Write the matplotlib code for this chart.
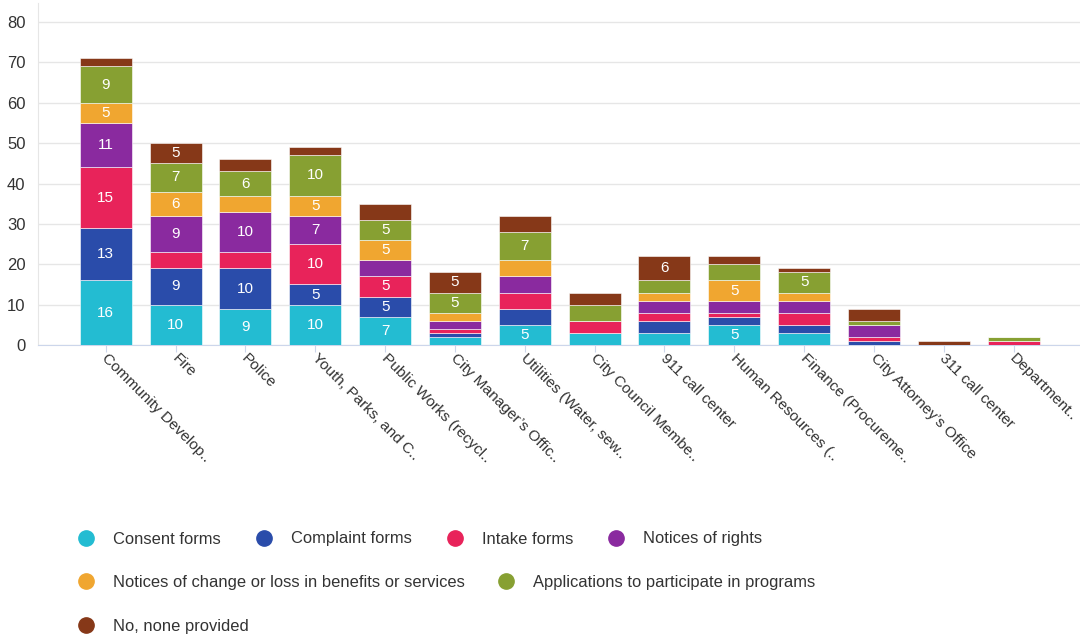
import numpy as np
import matplotlib.pyplot as plt
from matplotlib.lines import Line2D
from matplotlib.transforms import ScaledTranslation

plt.rcParams['font.family'] = ['Liberation Sans', 'DejaVu Sans']

departments = ['Community Develop..', 'Fire', 'Police', 'Youth, Parks, and C..',
               'Public Works (recycl..', 'City Manager\u2019s Offic..', 'Utilities (Water, sew..',
               'City Council Membe..', '911 call center', 'Human Resources (..',
               'Finance (Procureme..', 'City Attorney\u2019s Office', '311 call center',
               'Department..']

consent = [16, 10, 9, 10, 7, 2, 5, 3, 3, 5, 3, 0, 0, 0]
complaint = [13, 9, 10, 5, 5, 1, 4, 0, 3, 2, 2, 1, 0, 0]
intake = [15, 4, 4, 10, 5, 1, 4, 3, 2, 1, 3, 1, 0, 1]
rights = [11, 9, 10, 7, 4, 2, 4, 0, 3, 3, 3, 3, 0, 0]
change = [5, 6, 4, 5, 5, 2, 4, 0, 2, 5, 2, 0, 0, 0]
applications = [9, 7, 6, 10, 5, 5, 7, 4, 3, 4, 5, 1, 0, 1]
none_provided = [2, 5, 3, 2, 4, 5, 4, 3, 6, 2, 1, 3, 1, 0]

series_names = ['Consent forms', 'Complaint forms', 'Intake forms', 'Notices of rights',
                'Notices of change or loss in benefits or services',
                'Applications to participate in programs', 'No, none provided']
series = [consent, complaint, intake, rights, change, applications, none_provided]
colors = ['#23bcd2', '#2a4caa', '#e8235a', '#8a2a9f', '#f0a630', '#87a032', '#863818']

fig = plt.figure(figsize=(10.8, 6.38), dpi=100)
ax = fig.add_axes([0.0352, 0.4592, 0.9648, 0.536])

x = np.arange(len(departments))
bottom = np.zeros(len(departments))
for vals, col in zip(series, colors):
    vals = np.array(vals, dtype=float)
    ax.bar(x, vals, width=0.745, bottom=bottom, color=col, edgecolor='white',
           linewidth=0.4, zorder=3)
    for xi, b, v in zip(x, bottom, vals):
        if v >= 5:
            ax.text(xi, b + v / 2, f'{int(v)}', ha='center', va='center',
                    color='white', fontsize=11, zorder=4)
    bottom += vals

ax.set_xlim(-0.97, 13.95)
ax.set_ylim(0, 84.7)
ax.set_yticks(range(0, 81, 10))
ax.grid(axis='y', color='#e6e6e6', linewidth=1, zorder=0)
ax.tick_params(axis='y', length=0, pad=9, labelsize=12, labelcolor='#333333')
ax.tick_params(axis='x', length=5, color='#ccd6eb', labelsize=11.1, labelcolor='#333333', pad=3)
ax.set_xticks(x)
ax.set_xticklabels(departments, rotation=-45, ha='left', va='center', rotation_mode='anchor')
shift = ScaledTranslation(-1.5 / 100, 0, fig.dpi_scale_trans)
for lbl in ax.get_xticklabels():
    lbl.set_transform(lbl.get_transform() + shift)

for side in ['top', 'right']:
    ax.spines[side].set_visible(False)
ax.spines['left'].set_color('#e6e6e6')
ax.spines['bottom'].set_color('#ccd6eb')

# legend laid out in rows like a flowing legend
legend_rows = [(538, [0, 1, 2, 3], [86, 264, 455, 616]),
               (581, [4, 5], [86, 506]),
               (625, [6], [86])]
W, H = 1080, 638
for ypix, idxs, xs in legend_rows:
    for i, xp in zip(idxs, xs):
        fig.add_artist(Line2D([xp / W], [1 - ypix / H], marker='o', markersize=11,
                              color=colors[i], linestyle='none', transform=fig.transFigure))
        fig.text((xp + 27) / W, 1 - (ypix + 1) / H, series_names[i], ha='left', va='center',
                 fontsize=11.85, color='#333333')

fig.savefig('out.png', dpi=100, facecolor='white')
